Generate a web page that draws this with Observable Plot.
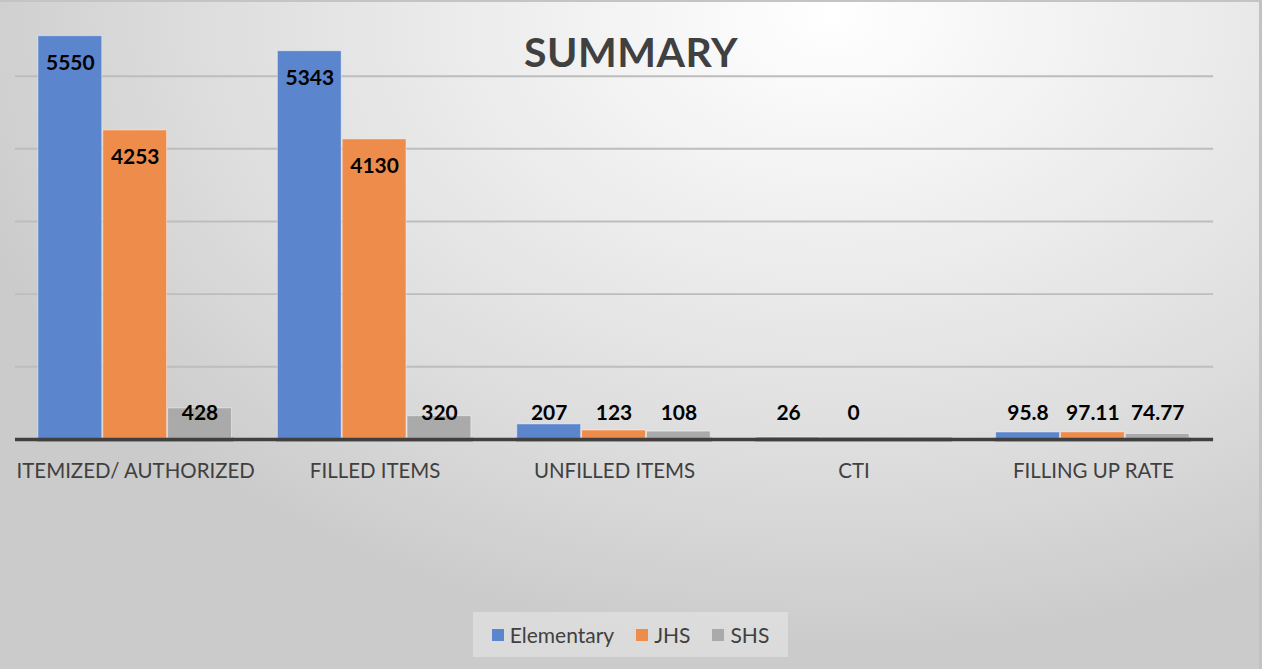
<!DOCTYPE html>
<html>
<head>
<meta charset="utf-8">
<script src="https://cdn.jsdelivr.net/npm/d3@7"></script>
<script src="https://cdn.jsdelivr.net/npm/@observablehq/plot@0.6"></script>
<style>
  html, body { margin: 0; padding: 0; }
  body { width: 1262px; height: 669px; overflow: hidden; font-family: Lato, "Open Sans", sans-serif; }
  #wrap {
    position: relative; width: 1262px; height: 669px; box-sizing: border-box;
    background: radial-gradient(ellipse 72% 95% at 66% 2%, #ffffff 0%, #ececec 40%, #dcdcdc 72%, #cbcbcb 100%);
    border-top: 2px solid #c4c4c4; border-right: 3px solid #c2c2c2;
  }
  #title {
    position: absolute; left: 0; width: 1262px; top: 25px; text-align: center;
    font-family: Lato, sans-serif; font-weight: 700; font-size: 41px; color: #404040; letter-spacing: 0.5px;
  }
  .layer { position: absolute; left: 0; top: -1px; }
  #legend {
    position: absolute; left: 473px; top: 610px; width: 315px; height: 45px;
    background: rgba(240,240,240,0.45); display: flex; align-items: center; justify-content: center; gap: 22px;
    font-family: Lato, sans-serif; font-size: 21px; color: #404040;
  }
  .item { display: flex; align-items: center; gap: 6px; }
  .sw { width: 12px; height: 12px; display: inline-block; }
</style>
</head>
<body>
<div id="wrap">
  <div id="grid" class="layer"></div>
  <div id="chart" class="layer"></div>
  <div id="title">SUMMARY</div>
  <div id="legend"></div>
</div>
<script>
const categories = ["ITEMIZED/ AUTHORIZED", "FILLED ITEMS", "UNFILLED ITEMS", "CTI", "FILLING UP RATE"];
const seriesNames = ["Elementary", "JHS", "SHS"];
const elementary = [5550, 5343, 207, 26, 95.8];
const jhs = [4253, 4130, 123, 0, 97.11];
const shs = [428, 320, 108, null, 74.77];
const gridTicks = [1000, 2000, 3000, 4000, 5000];
const colors = ["#5b85cc", "#ee8c4c", "#aaaaaa"];

const seriesValues = [elementary, jhs, shs];
const rows = [];
categories.forEach((c, i) => {
  seriesNames.forEach((s, j) => {
    const v = seriesValues[j][i];
    if (v !== null && v !== undefined) rows.push({category: c, series: s, value: v});
  });
});

const common = {
  width: 1262,
  height: 500,
  marginTop: 2,
  marginBottom: 61,
  marginLeft: 15,
  marginRight: 46,
  style: {background: "transparent", fontFamily: "Lato, sans-serif"},
  y: {domain: [0, 6000], axis: null}
};

// Background layer: continuous gridlines and baseline across the whole plot
const grid = Plot.plot({
  ...common,
  x: {domain: [0, 1], axis: null},
  marks: [
    Plot.ruleY(gridTicks, {stroke: "#bdbdbd", strokeWidth: 2}),
    Plot.ruleY([0], {stroke: "#404040", strokeWidth: 3.5})
  ]
});
document.getElementById("grid").appendChild(grid);

// Foreground layer: grouped bars, labels, category axis
const chart = Plot.plot({
  ...common,
  fx: {domain: categories, paddingInner: 0.18, paddingOuter: 0.09, label: null},
  x: {domain: seriesNames, axis: null, padding: 0.01},
  color: {domain: seriesNames, range: colors},
  marks: [
    Plot.barY(rows, {fx: "category", x: "series", y: "value", fill: "series", stroke: "#ffffff", strokeOpacity: 0.45, strokeWidth: 1}),
    Plot.ruleY([0], {stroke: "#404040", strokeWidth: 3.5}),
    Plot.text(rows, {fx: "category", x: "series", y: d => Math.max(d.value, 726), dy: 27,
      text: d => String(d.value), fill: "#000", fontWeight: "bold", fontSize: 21, fontFamily: "Lato, sans-serif"}),
    Plot.axisFx({anchor: "bottom", tickSize: 0, tickPadding: 24, fontSize: 20.5, fill: "#404040", label: null})
  ]
});
document.getElementById("chart").appendChild(chart);

const legend = document.getElementById("legend");
seriesNames.forEach((s, j) => {
  const it = document.createElement("div");
  it.className = "item";
  it.innerHTML = `<span class="sw" style="background:${colors[j]}"></span><span>${s}</span>`;
  legend.appendChild(it);
});
</script>
</body>
</html>
